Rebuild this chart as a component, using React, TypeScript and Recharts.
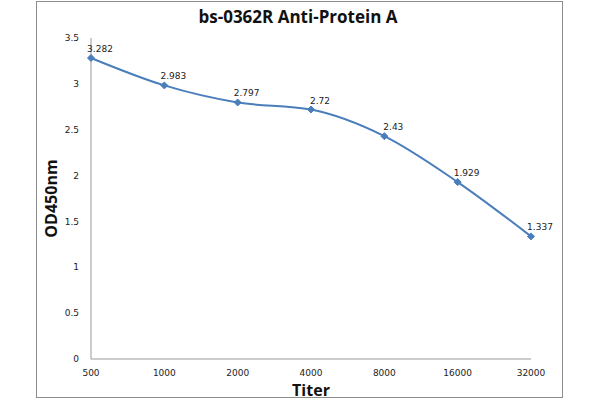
import React from 'react';
import { LineChart, Line, XAxis, YAxis, LabelList } from 'recharts';

const titers = ['500', '1000', '2000', '4000', '8000', '16000', '32000'];
const od450 = [3.282, 2.983, 2.797, 2.72, 2.43, 1.929, 1.337];
const yTicks = [0, 0.5, 1, 1.5, 2, 2.5, 3, 3.5];

const data = titers.map((titer, i) => ({ titer, od: od450[i] }));

const tickFont = { fontFamily: 'DejaVu Sans', fontSize: 9, fill: '#222' };

const Diamond = (props: any) => {
  const { cx, cy } = props;
  if (cx == null || cy == null) return null;
  const r = 3.5;
  return (
    <path
      d={`M${cx},${cy - r}L${cx + r},${cy}L${cx},${cy + r}L${cx - r},${cy}Z`}
      fill="#4a7ebb"
      stroke="#4a7ebb"
    />
  );
};

export default function App() {
  return (
    <div style={{ position: 'fixed', left: 0, top: 0, width: 600, height: 400, background: '#fff' }}>
      <div
        style={{
          position: 'absolute',
          left: 36,
          top: 1,
          width: 527,
          height: 397,
          border: '1px solid #8c8c8c',
          boxSizing: 'border-box',
        }}
      />
      <div
        style={{
          position: 'absolute',
          top: 5,
          left: 0,
          width: 596,
          textAlign: 'center',
          fontFamily: 'Open Sans',
          fontWeight: 'bold',
          fontSize: 17,
          color: '#111',
        }}
      >
        bs-0362R Anti-Protein A
      </div>
      <div style={{ position: 'absolute', left: 0, top: 0 }}>
        <LineChart width={600} height={400} data={data} margin={{ top: 38, right: 69, bottom: 4, left: 41 }}>
          <XAxis
            dataKey="titer"
            axisLine={{ stroke: '#999' }}
            tickLine={false}
            tick={tickFont}
            tickMargin={5}
            height={37}
            interval={0}
            label={{
              value: 'Titer',
              position: 'insideBottom',
              offset: 0,
              style: { fontFamily: 'Open Sans', fontWeight: 'bold', fontSize: 16, fill: '#111' },
            }}
          />
          <YAxis
            domain={[0, 3.5]}
            ticks={yTicks}
            axisLine={{ stroke: '#999' }}
            tickLine={false}
            tick={tickFont}
            tickMargin={6}
            width={50}
            label={{
              value: 'OD450nm',
              angle: -90,
              position: 'insideLeft',
              offset: 10,
              style: { fontFamily: 'Open Sans', fontWeight: 'bold', fontSize: 16, fill: '#111', textAnchor: 'middle' },
            }}
          />
          <Line
            type="monotone"
            dataKey="od"
            stroke="#4a7ebb"
            strokeWidth={2}
            dot={<Diamond />}
            isAnimationActive={false}
          >
            <LabelList
              dataKey="od"
              position="top"
              offset={6}
              dx={9}
              style={{ fontFamily: 'DejaVu Sans', fontSize: 9, fill: '#222' }}
            />
          </Line>
        </LineChart>
      </div>
    </div>
  );
}
